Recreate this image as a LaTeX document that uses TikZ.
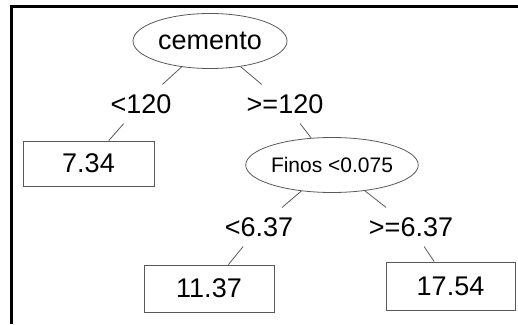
\documentclass[tikz,border=0pt]{standalone}
\usepackage{fontspec}
\setmainfont{Liberation Sans}
\usetikzlibrary{shapes.geometric}
\begin{document}
\begin{tikzpicture}[x=1pt,y=-1pt,
  lbl/.style={font=\fontsize{27}{27}\selectfont, inner sep=0pt, outer sep=10pt},
  splitnode/.style={ellipse, draw=black!65, line width=0.8pt, inner sep=0pt},
  leaf/.style={rectangle, draw=black!65, line width=0.8pt, font=\fontsize{27}{27}\selectfont, inner sep=0pt},
  edge/.style={draw=black!65, line width=0.8pt}]
\useasboundingbox (0,0) rectangle (518,324);
\draw[line width=3pt] (11.5,324) -- (11.5,6) -- (518,6);
\node[splitnode, minimum width=154, minimum height=55, font=\fontsize{27}{27}\selectfont] (cem) at (210,41) {cemento};
\node[lbl] (l1) at (141,104) {<120};
\node[lbl] (r1) at (285,104) {>=120};
\node[leaf, minimum width=131, minimum height=45] (b1) at (88.5,163.5) {7.34};
\node[splitnode, minimum width=155, minimum height=55, font=\fontsize{21}{21}\selectfont] (fin) at (332,165) {Finos <0.075};
\node[lbl] (l2) at (259,227) {<6.37};
\node[lbl] (r2) at (411,227) {>=6.37};
\node[leaf, minimum width=130, minimum height=47] (b2) at (209,288.5) {11.37};
\node[leaf, minimum width=129, minimum height=48] (b3) at (450.5,286) {17.54};
\draw[edge] (cem) -- (l1);
\draw[edge] (cem) -- (r1);
\draw[edge] (l1) -- (b1);
\draw[edge] (r1) -- (fin);
\draw[edge] (fin) -- (l2);
\draw[edge] (fin) -- (r2);
\draw[edge] (l2) -- (b2);
\draw[edge] (r2) -- (b3);
\end{tikzpicture}
\end{document}
